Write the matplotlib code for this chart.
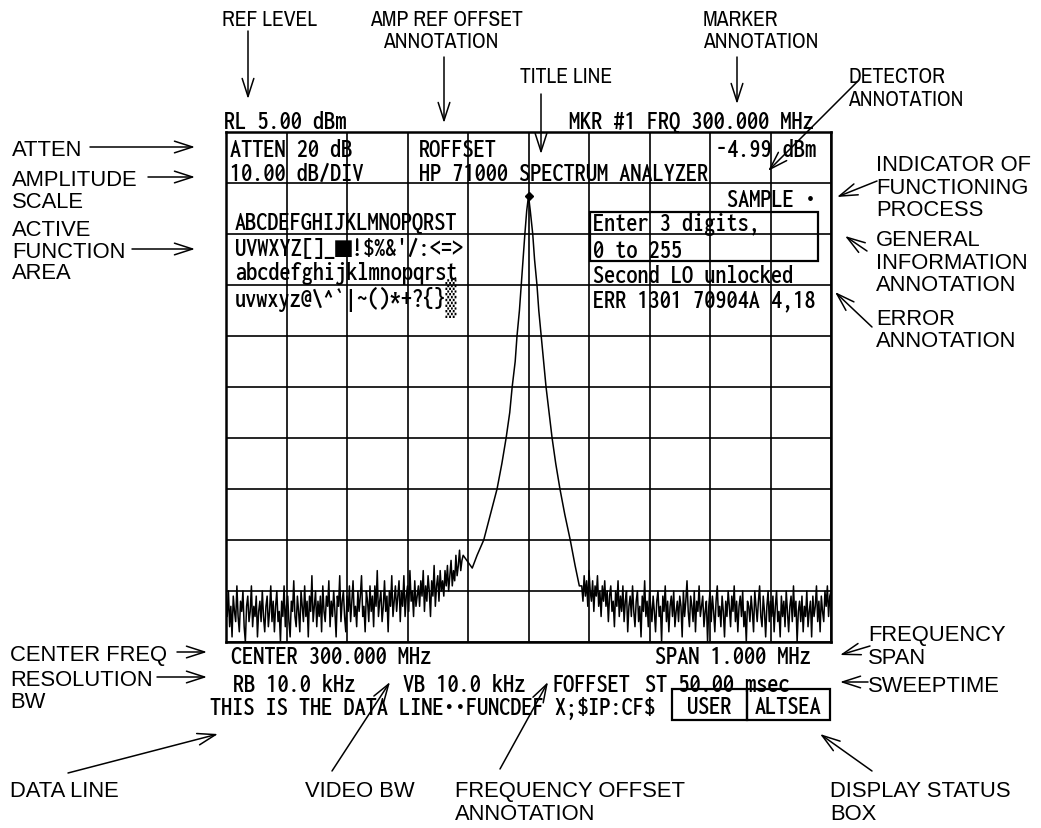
import numpy as np
import matplotlib
matplotlib.use("Agg")
import matplotlib.pyplot as plt
from matplotlib.patches import Rectangle

W, H = 1041, 829

# ---------------- data ----------------
center_mhz = 300.0
span_khz = 1000.0
ref_level_dbm = 5.0
db_per_div = 10.0

left_noise_khz = np.arange(-500, -107, 2)
left_noise_db = [
    -87, -90, -85, -92, -88, -94, -86, -89, -91, -84, -90, -93, -87, -89, -85, -92, -95, -88, -86, -91,
    -89, -84, -92, -88, -90, -86, -94, -89, -87, -91, -85, -90, -93, -88, -86, -92, -89, -84, -91, -87,
    -93, -88, -85, -91, -89, -95, -87, -90, -84, -92, -88, -86, -91, -94, -87, -89, -83, -90, -92, -86,
    -89, -93, -85, -88, -91, -84, -90, -87, -94, -86, -89, -82, -91, -88, -85, -92, -87, -90, -86, -93,
    -84, -89, -91, -86, -88, -83, -92, -87, -90, -85, -89, -94, -86, -88, -82, -91, -87, -85, -90, -93,
    -86, -89, -84, -91, -87, -83, -90, -88, -92, -85, -89, -86, -82, -90, -88, -93, -85, -87, -91, -84,
    -89, -86, -92, -84, -88, -81, -90, -87, -85, -91, -88, -83, -89, -86, -93, -85, -88, -82, -90, -87,
    -84, -89, -86, -83, -91, -85, -88, -82, -90, -86, -84, -89, -81, -87, -85, -90, -83, -88, -86, -84,
    -88, -83, -86, -81, -89, -84, -87, -82, -85, -90, -83, -86, -80, -88, -84, -82, -87, -81, -85, -83,
    -86, -81, -84, -80, -85, -82, -79, -84, -81, -83, -78, -82, -80, -77, -81, -79, -78,
]
skirt_khz = [-93, -85, -74, -63, -52, -44, -37, -31, -27, -22, -19, -15, -12, -9, -6, -3, 0,
             3, 7, 10, 14, 17, 21, 25, 29, 34, 39, 45, 52, 60, 69, 77, 84]
skirt_db = [-80.5, -78, -75, -70, -65, -60, -55, -50, -45, -40, -35, -30, -25, -20, -15, -10.5, -7.5,
            -10.5, -15, -20, -25, -30, -35, -40, -45, -50, -55, -60, -65, -70, -75, -80, -84]
right_noise_khz = np.arange(88, 501, 2)
right_noise_db = [
    -84, -87, -82, -86, -83, -88, -81, -85, -87, -83, -89, -84, -86, -82, -88, -85, -90, -84, -87, -83,
    -88, -85, -91, -86, -84, -89, -87, -92, -85, -88, -83, -90, -86, -89, -84, -91, -87, -85, -93, -88,
    -86, -90, -84, -89, -92, -87, -85, -91, -88, -94, -86, -89, -83, -90, -87, -92, -85, -88, -91, -86,
    -89, -93, -87, -85, -90, -88, -95, -86, -89, -84, -91, -87, -93, -88, -86, -90, -85, -92, -89, -87,
    -91, -86, -88, -94, -85, -90, -87, -83, -89, -92, -86, -88, -91, -85, -93, -87, -89, -84, -90, -88,
    -86, -92, -89, -87, -95, -88, -85, -91, -86, -89, -93, -87, -84, -90, -88, -92, -86, -89, -94, -87,
    -90, -85, -88, -92, -86, -89, -84, -91, -87, -93, -88, -86, -90, -85, -92, -89, -95, -87, -88, -91,
    -86, -89, -93, -85, -88, -91, -87, -84, -90, -92, -86, -89, -94, -88, -85, -91, -87, -90, -86, -93,
    -88, -85, -91, -89, -94, -86, -90, -87, -92, -85, -89, -93, -88, -86, -91, -84, -90, -87, -95, -89,
    -87, -91, -86, -93, -88, -90, -85, -92, -89, -87, -94, -86, -90, -88, -84, -91, -87, -93, -86, -89,
    -91, -85, -88, -84, -90, -86, -85,
]

# screen annotation texts
rl_text = "RL 5.00 dBm"
mkr_text = "MKR #1 FRQ 300.000 MHz"
atten_text = "ATTEN 20 dB"
scale_text = "10.00 dB/DIV"
roffset_text = "ROFFSET"
title_text = "HP 71000 SPECTRUM ANALYZER"
mkr_amp_text = "-4.99 dBm"
detector_text = "SAMPLE \u2022"
active_rows = ["ABCDEFGHIJKLMNOPQRST",
               "UVWXYZ[]_\u25a0!$%&'/:<=>",
               "abcdefghijklmnopqrst",
               "uvwxyz@\\^`|~()*+?{}\u2592"]
info_rows = ["Enter 3 digits,", "0 to 255"]
unlock_text = "Second LO unlocked"
err_text = "ERR 1301 70904A 4,18"
center_text = "CENTER 300.000 MHz"
span_text = "SPAN 1.000 MHz"
rb_text = "RB 10.0 kHz"
vb_text = "VB 10.0 kHz"
foffset_text = "FOFFSET"
st_text = "ST 50.00 msec"
data_line_text = "THIS IS THE DATA LINE\u2022\u2022FUNCDEF X;$IP:CF$"
status_texts = ["USER", "ALTSEA"]

# ---------------- figure ----------------
fig = plt.figure(figsize=(W / 100, H / 100), dpi=100)
fig.patch.set_facecolor("white")

gx0, gy0, gx1, gy1 = 226, 133, 831, 643
ax = fig.add_axes([gx0 / W, 1 - gy1 / H, (gx1 - gx0) / W, (gy1 - gy0) / H])
ax.set_xlim(-span_khz / 2, span_khz / 2)
ax.set_ylim(ref_level_dbm - 10 * db_per_div, ref_level_dbm)
ax.set_xticks(np.linspace(-span_khz / 2, span_khz / 2, 11))
ax.set_yticks(np.linspace(ref_level_dbm - 10 * db_per_div, ref_level_dbm, 11))
ax.grid(True, color="black", lw=1.2)
ax.tick_params(length=0, labelbottom=False, labelleft=False)
for s in ax.spines.values():
    s.set_linewidth(1.8)

freq = np.concatenate([left_noise_khz, skirt_khz, right_noise_khz])
level = np.concatenate([left_noise_db, skirt_db, right_noise_db])
ax.plot(freq, level, color="black", lw=1.1, zorder=3)
ipk = int(np.argmax(level))
ax.plot([freq[ipk]], [level[ipk]], marker="D", ms=4.5, color="black", zorder=4)

# ---------------- overlay in pixel coordinates ----------------
ov = fig.add_axes([0, 0, 1, 1], zorder=5)
ov.set_xlim(0, W)
ov.set_ylim(H, 0)
ov.axis("off")
ov.patch.set_alpha(0)

SCR = dict(family=["Inconsolata", "DejaVu Sans Mono"], fontstretch="condensed",
           fontsize=20.0, color="black", va="baseline", ha="left", fontweight=600,
           parse_math=False)
LAB = dict(family=["Liberation Sans", "DejaVu Sans"], fontsize=15.8, color="black",
           va="baseline", ha="left", parse_math=False)
NAR = dict(family=["Archivo Narrow", "Liberation Sans"], fontsize=15.5, color="black",
           va="baseline", ha="left", parse_math=False)


def scr(x, y, s, **kw):
    d = dict(SCR)
    d.update(kw)
    ov.text(x, y + 8.5, s, **d)


def lab(x, y, s, style=LAB):
    ov.text(x, y + 7.5, s, **style)


def arrow(tail, head):
    ov.annotate("", xy=head, xytext=tail,
                arrowprops=dict(arrowstyle="->,head_length=1.3,head_width=0.42",
                                lw=1.1, color="black", shrinkA=0, shrinkB=0))


# screen text
scr(224, 120, rl_text)
scr(569, 120, mkr_text)
scr(230, 148, atten_text)
scr(230, 172, scale_text)
scr(419, 148, roffset_text)
scr(419, 172, title_text)
scr(716, 148, mkr_amp_text)
scr(727, 198, detector_text)
for yy, row in zip([221, 247, 271, 298], active_rows):
    scr(235, yy, row)
for yy, row in zip([222, 249], info_rows):
    scr(593, yy, row)
scr(593, 274, unlock_text)
scr(593, 299, err_text)
scr(231, 656, center_text)
scr(655, 656, span_text)
scr(233, 683, rb_text)
scr(403, 683, vb_text)
scr(553, 683, foffset_text)
scr(645, 683, st_text)
scr(210, 706, data_line_text)

ov.add_patch(Rectangle((590, 213), 228, 49, fill=False, lw=1.6, color="black"))
ov.add_patch(Rectangle((672, 690), 75, 31, fill=False, lw=1.6, color="black"))
ov.add_patch(Rectangle((747, 690), 83, 31, fill=False, lw=1.6, color="black"))
scr(709, 706, status_texts[0], ha="center")
scr(788, 706, status_texts[1], ha="center")

# outer labels (condensed ones at top)
lab(222, 18, "REF LEVEL", NAR)
lab(370, 18, "AMP REF OFFSET", NAR)
lab(383, 40, "ANNOTATION", NAR)
lab(520, 75, "TITLE LINE", NAR)
lab(703, 18, "MARKER", NAR)
lab(703, 40, "ANNOTATION", NAR)
lab(848, 75, "DETECTOR", NAR)
lab(848, 98, "ANNOTATION", NAR)

lab(12, 148, "ATTEN")
lab(12, 178, "AMPLITUDE")
lab(12, 200, "SCALE")
lab(12, 228, "ACTIVE")
lab(12, 250, "FUNCTION")
lab(12, 271, "AREA")

lab(876, 163, "INDICATOR OF")
lab(876, 186, "FUNCTIONING")
lab(876, 208, "PROCESS")
lab(876, 238, "GENERAL")
lab(876, 261, "INFORMATION")
lab(876, 283, "ANNOTATION")
lab(876, 317, "ERROR")
lab(876, 339, "ANNOTATION")

lab(10, 653, "CENTER FREQ")
lab(10, 678, "RESOLUTION")
lab(10, 701, "BW")
lab(868, 634, "FREQUENCY")
lab(868, 656, "SPAN")
lab(868, 684, "SWEEPTIME")

lab(10, 790, "DATA LINE")
lab(305, 790, "VIDEO BW")
lab(455, 790, "FREQUENCY OFFSET")
lab(455, 813, "ANNOTATION")
lab(830, 790, "DISPLAY STATUS")
lab(830, 813, "BOX")

# arrows
arrow((248, 32), (248, 100))
arrow((444, 58), (444, 124))
arrow((541, 95), (541, 155))
arrow((737, 58), (737, 105))
arrow((857, 83), (768, 172))
arrow((90, 148), (195, 148))
arrow((148, 178), (195, 178))
arrow((132, 250), (195, 250))
arrow((877, 182), (837, 198))
arrow((867, 252), (845, 237))
arrow((872, 328), (835, 293))
arrow((177, 653), (207, 653))
arrow((157, 678), (207, 678))
arrow((68, 774), (218, 735))
arrow((332, 772), (390, 683))
arrow((500, 770), (548, 683))
arrow((872, 772), (820, 735))
arrow((870, 647), (840, 656))
arrow((868, 683), (840, 683))

fig.savefig("out.png", dpi=100, facecolor="white")
